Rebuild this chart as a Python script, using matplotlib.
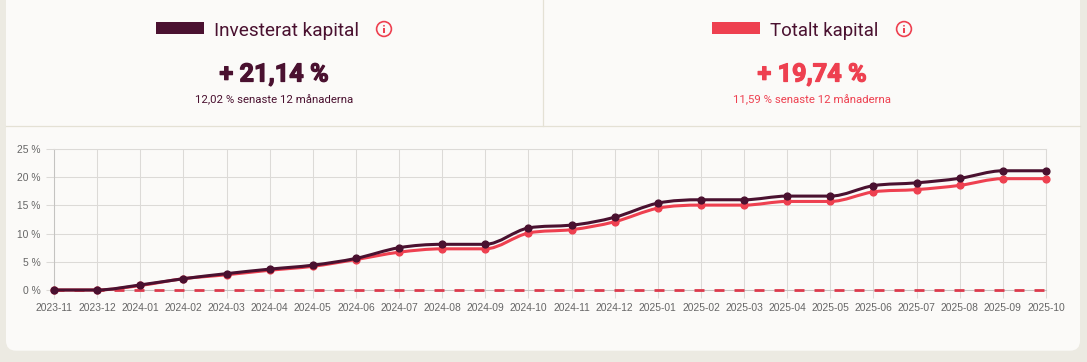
#!/usr/bin/env python
# coding: utf-8
import numpy as np
import matplotlib
matplotlib.use("Agg")
import matplotlib.pyplot as plt
import matplotlib.patheffects as pe
from matplotlib.path import Path
from matplotlib.patches import PathPatch, FancyBboxPatch, Rectangle, Circle

months = ['2023-11', '2023-12', '2024-01', '2024-02', '2024-03', '2024-04', '2024-05', '2024-06',
          '2024-07', '2024-08', '2024-09', '2024-10', '2024-11', '2024-12', '2025-01', '2025-02',
          '2025-03', '2025-04', '2025-05', '2025-06', '2025-07', '2025-08', '2025-09', '2025-10']
invested = [0, 0, 0.9, 2.0, 2.9, 3.7, 4.4, 5.6, 7.5, 8.1, 8.1, 11.0, 11.5, 12.9, 15.4, 16.0,
            16.0, 16.65, 16.65, 18.5, 19.0, 19.8, 21.14, 21.14]
total = [0, 0, 0.8, 2.0, 2.7, 3.5, 4.2, 5.4, 6.7, 7.3, 7.3, 10.1, 10.7, 12.1, 14.5, 15.05,
         15.05, 15.7, 15.7, 17.4, 17.8, 18.55, 19.74, 19.74]
baseline = [0] * len(months)
y_ticks = [0, 5, 10, 15, 20, 25]

DARK = '#4a1130'
RED = '#ee4050'
BG = '#eceae2'
CARD = '#fbfaf8'
LINE = '#e4e1d5'
HEAD_FONT = 'Roboto'


def smooth_path(xs, ys):
    # monotone cubic curve through the points, as bezier segments
    xs = np.array(xs, dtype=float)
    ys = np.array(ys, dtype=float)
    delta = np.diff(ys) / np.diff(xs)
    m = np.zeros(len(ys))
    m[0] = delta[0]
    m[-1] = delta[-1]
    for i in range(1, len(ys) - 1):
        m[i] = 0 if delta[i - 1] * delta[i] <= 0 else (delta[i - 1] + delta[i]) / 2
    for i in range(len(delta)):
        if delta[i] == 0:
            m[i] = m[i + 1] = 0
            continue
        a = m[i] / delta[i]
        b = m[i + 1] / delta[i]
        s = a * a + b * b
        if s > 9:
            t = 3 / np.sqrt(s)
            m[i] = t * a * delta[i]
            m[i + 1] = t * b * delta[i]
    verts = [(xs[0], ys[0])]
    codes = [Path.MOVETO]
    for i in range(len(delta)):
        h = (xs[i + 1] - xs[i]) / 3
        verts += [(xs[i] + h, ys[i] + m[i] * h), (xs[i + 1] - h, ys[i + 1] - m[i + 1] * h), (xs[i + 1], ys[i + 1])]
        codes += [Path.CURVE4] * 3
    return Path(verts, codes)


def info_icon(ax, x, y):
    ax.add_patch(Circle((x, y), 7.4, fill=False, ec=RED, lw=1.2))
    ax.add_patch(Rectangle((x - 0.7, y - 1), 1.4, 5, fc=RED, ec='none'))
    ax.add_patch(Circle((x, y - 3.2), 0.9, fc=RED, ec='none'))


def big_value(ax, x, text, color):
    t = ax.text(x, 74.5, text, color=color, fontsize=18.2, fontweight='bold', family=HEAD_FONT, ha='center', va='center')
    # the original face is heavier than the bold we have
    t.set_path_effects([pe.withStroke(linewidth=0.9, foreground=color)])


W, H = 1087, 362
fig = plt.figure(figsize=(W / 100, H / 100), dpi=100, facecolor=BG)

# page background, card and header
bg = fig.add_axes([0, 0, 1, 1])
bg.set_xlim(0, W)
bg.set_ylim(H, 0)
bg.axis('off')
bg.add_patch(FancyBboxPatch((6, -40), 1074, 390.7, boxstyle='round,pad=0,rounding_size=10', fc=CARD, ec='none'))
bg.plot([6, 1080], [126, 126], color=LINE, lw=0.9)
bg.plot([543, 543], [0, 126], color=LINE, lw=0.9)

bg.add_patch(Rectangle((156, 22), 48, 12, fc=DARK, ec='none'))
bg.add_patch(Rectangle((712, 22), 48, 12, fc=RED, ec='none'))
bg.text(214.5, 30.5, 'Investerat kapital', color=DARK, fontsize=13.7, family=HEAD_FONT, ha='left', va='center')
bg.text(770.5, 30.5, 'Totalt kapital', color=DARK, fontsize=13.4, family=HEAD_FONT, ha='left', va='center')
info_icon(bg, 384, 29)
info_icon(bg, 904, 29)
big_value(bg, 274, '+ 21,14 %', DARK)
big_value(bg, 812, '+ 19,74 %', RED)
bg.text(274, 99.5, '12,02 % senaste 12 månaderna', color=DARK, fontsize=8.2, family=HEAD_FONT, ha='center', va='center')
bg.text(812, 99.5, '11,59 % senaste 12 månaderna', color=RED, fontsize=8.2, family=HEAD_FONT, ha='center', va='center')

# chart
left, right, top, bottom = 54, 1046, 149, 290
ax = fig.add_axes([left / W, 1 - bottom / H, (right - left) / W, (bottom - top) / H])
ax.patch.set_alpha(0)
x = list(range(len(months)))
ax.set_xlim(0, len(months) - 1)
ax.set_ylim(0, 25)
ax.set_xticks(x)
ax.set_xticklabels(months)
ax.set_yticks(y_ticks)
ax.set_yticklabels([str(v) + ' %' for v in y_ticks])
ax.grid(True, color='#dcdad7', lw=0.75)
ax.set_axisbelow(True)
ax.tick_params(axis='both', length=5.5, width=0.75, color='#dcdad7', labelcolor='#666666', labelsize=7.4, pad=4)
for label in ax.get_xticklabels() + ax.get_yticklabels():
    label.set_family('Liberation Sans')
for name, spine in ax.spines.items():
    spine.set_color('#dcdad7')
    spine.set_linewidth(0.75)
ax.spines['left'].set_color('#c4c3c1')
ax.spines['bottom'].set_color('#c4c3c1')

ax.plot(x, baseline, color='#dc3a4c', lw=2, dashes=(3.6, 3.6), clip_on=False, zorder=3, dash_capstyle='butt')

ax.add_patch(PathPatch(smooth_path(x, total), fill=False, ec=RED, lw=2.2, zorder=4, clip_on=False))
ax.plot(x, total, ls='none', marker='o', ms=4.9, mfc=RED, mec=RED, clip_on=False, zorder=4)
ax.add_patch(PathPatch(smooth_path(x, invested), fill=False, ec=DARK, lw=2.2, zorder=5, clip_on=False))
ax.plot(x, invested, ls='none', marker='o', ms=4.9, mfc=DARK, mec=DARK, clip_on=False, zorder=5)

fig.savefig('out.png', dpi=100, facecolor=BG)
